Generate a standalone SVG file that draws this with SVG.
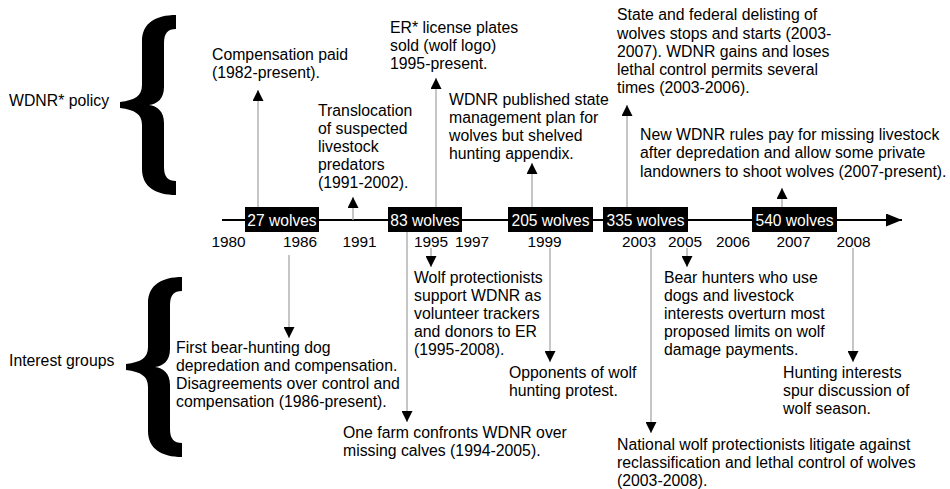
<svg xmlns="http://www.w3.org/2000/svg" width="950" height="489" viewBox="0 0 950 489">
<style>
  text { font-family: "Liberation Sans", Arial, sans-serif; font-size: 15.8px; fill: #000; }
  .yr { font-size: 15.4px; text-anchor: middle; }
  .box rect { fill: #000; }
  .box text { fill: #fff; text-anchor: middle; font-size: 15.6px; }
  .conn { stroke: #a8a8a8; stroke-width: 1.3; fill: none; marker-end: url(#ah); }
  .brace { fill: #000; }
</style>
<defs>
  <marker id="ah" markerUnits="userSpaceOnUse" markerWidth="11" markerHeight="11" refX="11" refY="5.5" orient="auto">
    <path d="M0,0 L11,5.5 L0,11 Z" fill="#000"/>
  </marker>
  <marker id="ahMain" markerUnits="userSpaceOnUse" markerWidth="16" markerHeight="13" refX="16" refY="6.5" orient="auto">
    <path d="M0,0 L16,6.5 L0,13 Z" fill="#000"/>
  </marker>
  <path id="bracePath" d="M56,0 L56,14 C48,14 44,18 44,28 L44,72 C44,84 37,89 29,90 C37,91 44,96 44,108 L44,152 C44,162 48,166 56,166 L56,180 C36,180 22,172 22,154 L22,110 C22,99 15,95 0,93 L0,87 C15,85 22,81 22,70 L22,26 C22,8 36,0 56,0 Z"/>
</defs>
<rect width="950" height="489" fill="#fff"/>

<g id="categories">
  <text x="9" y="106">WDNR* policy</text>
  <use href="#bracePath" class="brace" transform="translate(120,15)"/>
  <text x="9" y="366">Interest groups</text>
  <use href="#bracePath" class="brace" transform="translate(126,277)"/>
</g>

<g id="connectors">
  <line x1="222" y1="220" x2="902" y2="220" stroke="#000" stroke-width="1.8" marker-end="url(#ahMain)"/>
  <line class="conn" x1="258" y1="207" x2="258" y2="90"/>
  <line class="conn" x1="353" y1="220" x2="353" y2="197"/>
  <line class="conn" x1="436" y1="207" x2="436" y2="78"/>
  <line class="conn" x1="532" y1="207" x2="532" y2="163"/>
  <line class="conn" x1="627" y1="207" x2="627" y2="105"/>
  <line class="conn" x1="782" y1="207" x2="782" y2="188"/>
  <line class="conn" x1="289" y1="255" x2="289" y2="338"/>
  <line class="conn" x1="407" y1="232" x2="407" y2="422"/>
  <line class="conn" x1="431" y1="248" x2="431" y2="267"/>
  <line class="conn" x1="550" y1="248" x2="550" y2="362"/>
  <line class="conn" x1="651" y1="248" x2="651" y2="433"/>
  <line class="conn" x1="687" y1="248" x2="687" y2="267"/>
  <line class="conn" x1="853" y1="248" x2="853" y2="362"/>
</g>

<g id="pop1980" class="box"><rect x="245" y="207" width="74" height="25"/><text x="282" y="226">27 wolves</text></g>
<g id="pop1995" class="box"><rect x="388" y="207" width="74" height="25"/><text x="425" y="226">83 wolves</text></g>
<g id="pop1999" class="box"><rect x="508" y="207" width="85" height="25"/><text x="550.5" y="226">205 wolves</text></g>
<g id="pop2003" class="box"><rect x="603" y="207" width="85" height="25"/><text x="645.5" y="226">335 wolves</text></g>
<g id="pop2007" class="box"><rect x="752" y="207" width="85" height="25"/><text x="794.5" y="226">540 wolves</text></g>

<g id="years">
  <text class="yr" x="228.5" y="247">1980</text>
  <text class="yr" x="300" y="247">1986</text>
  <text class="yr" x="359.5" y="247">1991</text>
  <text class="yr" x="431" y="247">1995</text>
  <text class="yr" x="472" y="247">1997</text>
  <text class="yr" x="544.5" y="247">1999</text>
  <text class="yr" x="639" y="247">2003</text>
  <text class="yr" x="685" y="247">2005</text>
  <text class="yr" x="733" y="247">2006</text>
  <text class="yr" x="793.5" y="247">2007</text>
  <text class="yr" x="853.5" y="247">2008</text>
</g>

<g id="compensation">
  <text x="212" y="60">Compensation paid</text>
  <text x="212" y="78">(1982-present).</text>
</g>
<g id="translocation">
  <text x="318" y="116">Translocation</text>
  <text x="318" y="134">of suspected</text>
  <text x="318" y="152">livestock</text>
  <text x="318" y="170">predators</text>
  <text x="318" y="188">(1991-2002).</text>
</g>
<g id="plates">
  <text x="390" y="33">ER* license plates</text>
  <text x="390" y="51">sold (wolf logo)</text>
  <text x="390" y="69">1995-present.</text>
</g>
<g id="mgmtplan">
  <text x="449" y="105">WDNR published state</text>
  <text x="449" y="123">management plan for</text>
  <text x="449" y="141">wolves but shelved</text>
  <text x="449" y="159">hunting appendix.</text>
</g>
<g id="delisting">
  <text x="617" y="20">State and federal delisting of</text>
  <text x="617" y="38.5">wolves stops and starts (2003-</text>
  <text x="617" y="57">2007). WDNR gains and loses</text>
  <text x="617" y="75">lethal control permits several</text>
  <text x="617" y="93">times (2003-2006).</text>
</g>
<g id="newrules">
  <text x="640" y="140">New WDNR rules pay for missing livestock</text>
  <text x="640" y="158">after depredation and allow some private</text>
  <text x="640" y="176.5">landowners to shoot wolves (2007-present).</text>
</g>

<g id="bearhunting">
  <text x="176" y="353">First bear-hunting dog</text>
  <text x="176" y="371">depredation and compensation.</text>
  <text x="176" y="389">Disagreements over control and</text>
  <text x="176" y="407">compensation (1986-present).</text>
</g>
<g id="onefarm">
  <text x="343" y="438">One farm confronts WDNR over</text>
  <text x="343" y="456">missing calves (1994-2005).</text>
</g>
<g id="protectionists">
  <text x="414" y="283">Wolf protectionists</text>
  <text x="414" y="301">support WDNR as</text>
  <text x="414" y="319">volunteer trackers</text>
  <text x="414" y="337">and donors to ER</text>
  <text x="414" y="355">(1995-2008).</text>
</g>
<g id="opponents">
  <text x="509" y="378">Opponents of wolf</text>
  <text x="509" y="396">hunting protest.</text>
</g>
<g id="litigate">
  <text x="617" y="450">National wolf protectionists litigate against</text>
  <text x="617" y="468">reclassification and lethal control of wolves</text>
  <text x="617" y="486">(2003-2008).</text>
</g>
<g id="bearhunters">
  <text x="664" y="283">Bear hunters who use</text>
  <text x="664" y="301">dogs and livestock</text>
  <text x="664" y="319">interests overturn most</text>
  <text x="664" y="337">proposed limits on wolf</text>
  <text x="664" y="355">damage payments.</text>
</g>
<g id="huntinginterests">
  <text x="783" y="378">Hunting interests</text>
  <text x="783" y="396">spur discussion of</text>
  <text x="783" y="414">wolf season.</text>
</g>
</svg>
